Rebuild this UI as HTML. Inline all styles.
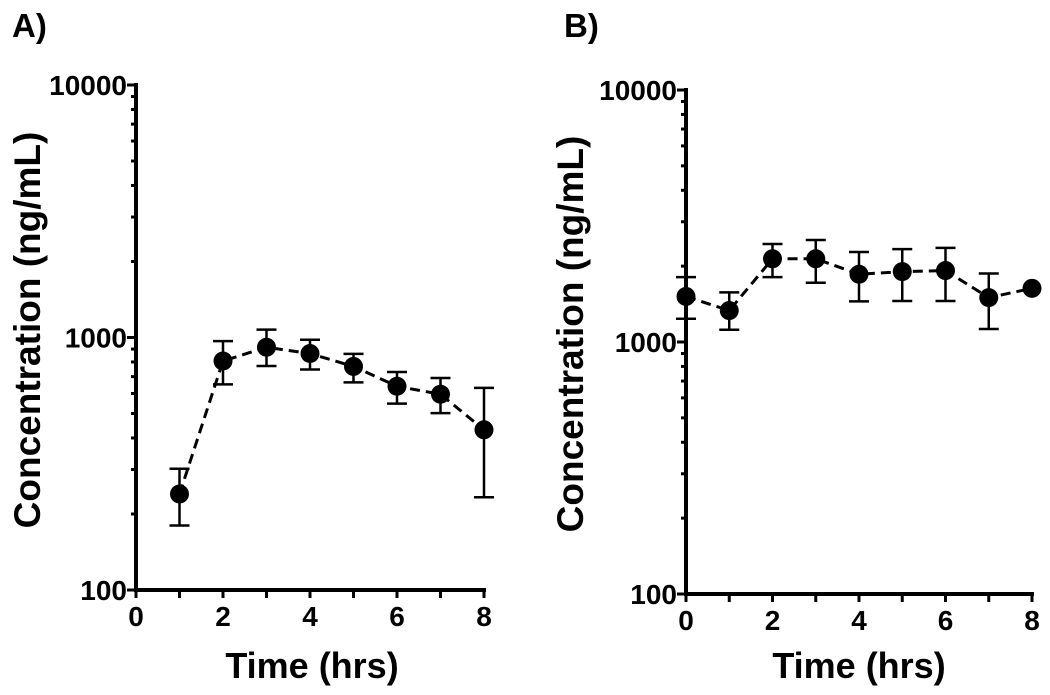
<!DOCTYPE html>
<html><head><meta charset="utf-8"><style>
html,body{margin:0;padding:0;background:#fff;}
svg{display:block;font-family:"Liberation Sans",Arial,sans-serif;font-weight:bold;}
</style></head><body>
<svg id="chart" width="1050" height="695" viewBox="0 0 1050 695">
<text x="12" y="37" font-size="33">A)</text>
<text x="564" y="37" font-size="33">B)</text>
<g id="pa"></g>
<g id="pb"></g>
</svg>
<script>
const timesA = [1,2,3,4,5,6,7,8];
const meanA = [240,807,915,864,768,641,596,431];
const upperA = [302,967,1074,980,861,730,691,632];
const lowerA = [180,652,771,747,664,547,502,233];

const timesB = [0,1,2,3,4,5,6,7,8];
const meanB = [1516,1333,2139,2139,1857,1902,1921,1500,1633];
const upperB = [1808,1573,2448,2540,2275,2337,2362,1870,null];
const lowerB = [1237,1118,1808,1718,1450,1455,1455,1126,null];

const xTicks = [0,1,2,3,4,5,6,7,8];
const xTickLabels = ["0","","2","","4","","6","","8"];
const yDecades = [100,1000,10000];
const yTickLabels = ["100","1000","10000"];

const NS = "http://www.w3.org/2000/svg";
function mk(parent, tag, attrs){
  const e = document.createElementNS(NS, tag);
  for (const k in attrs) e.setAttribute(k, attrs[k]);
  parent.appendChild(e); return e;
}
function panel(g, cfg, times, mean, upper, lower, key){
  const sx = v => cfg.x0 + (v - 0) * (cfg.x1 - cfg.x0) / 8;
  const sy = v => cfg.y0 - (Math.log10(v) - 2) * (cfg.y0 - cfg.y1) / 2;
  const ya = mk(g,'line',{x1:cfg.x0,y1:cfg.y1-2,x2:cfg.x0,y2:cfg.y0+2,stroke:'#000','stroke-width':4});
  
  
  const xa = mk(g,'line',{x1:cfg.x0-2,y1:cfg.y0,x2:cfg.x1+2,y2:cfg.y0,stroke:'#000','stroke-width':4});
  
  
  yDecades.forEach((d,i)=>{
    const y = sy(d);
    const t = mk(g,'line',{x1:cfg.x0-9,y1:y,x2:cfg.x0,y2:y,stroke:'#000','stroke-width':3});
    
    
    const l = mk(g,'text',{x:cfg.x0-9,y:y+10,'font-size':28,'text-anchor':'end'});
    l.textContent = yTickLabels[i];
    
    
    if (i < yDecades.length-1){
      for (let m=2;m<=9;m++){
        const ym = sy(d*m);
        const mt = mk(g,'line',{x1:cfg.x0-5,y1:ym,x2:cfg.x0,y2:ym,stroke:'#000','stroke-width':3});
        
        
      }
    }
  });
  xTicks.forEach((v,i)=>{
    const x = sx(v);
    const t = mk(g,'line',{x1:x,y1:cfg.y0,x2:x,y2:cfg.y0+8,stroke:'#000','stroke-width':3});
    
    
    if (xTickLabels[i]){
      const l = mk(g,'text',{x:x,y:cfg.y0+36,'font-size':28,'text-anchor':'middle'});
      l.textContent = xTickLabels[i];
      
      
    }
  });
  const xt = mk(g,'text',{x:cfg.xtc,y:678,'font-size':36,'text-anchor':'middle'});
  xt.textContent = 'Time (hrs)';
  
  
  const yt = mk(g,'text',{x:0,y:0,'font-size':37,'text-anchor':'middle',transform:'translate('+cfg.tx+','+cfg.ty+') rotate(-90)'});
  yt.textContent = 'Concentration (ng/mL)';
  
  
  const pts = times.map((t,i)=>sx(t)+','+sy(mean[i])).join(' ');
  const pl = mk(g,'polyline',{points:pts,fill:'none',stroke:'#000','stroke-width':3,'stroke-dasharray':'10,6'});
  
  
  times.forEach((t,i)=>{
    if (upper[i]==null) return;
    const x = sx(t), yu = sy(upper[i]), yl = sy(lower[i]);
    const eg = mk(g,'g',{});
    
    
    mk(eg,'line',{x1:x,y1:yu,x2:x,y2:yl,stroke:'#000','stroke-width':2.5});
    mk(eg,'line',{x1:x-10,y1:yu,x2:x+10,y2:yu,stroke:'#000','stroke-width':2.5});
    mk(eg,'line',{x1:x-10,y1:yl,x2:x+10,y2:yl,stroke:'#000','stroke-width':2.5});
  });
  times.forEach((t,i)=>{
    const c = mk(g,'circle',{cx:sx(t),cy:sy(mean[i]),r:9.5,fill:'#000'});
    
    
  });
}
panel(document.getElementById('pa'), {x0:136,x1:484,y0:590,y1:85,tx:40,ty:330,xtc:312}, timesA, meanA, upperA, lowerA, 'panel-a');
panel(document.getElementById('pb'), {x0:686,x1:1032,y0:594,y1:90,tx:583,ty:334,xtc:859}, timesB, meanB, upperB, lowerB, 'panel-b');
</script>
</body></html>
